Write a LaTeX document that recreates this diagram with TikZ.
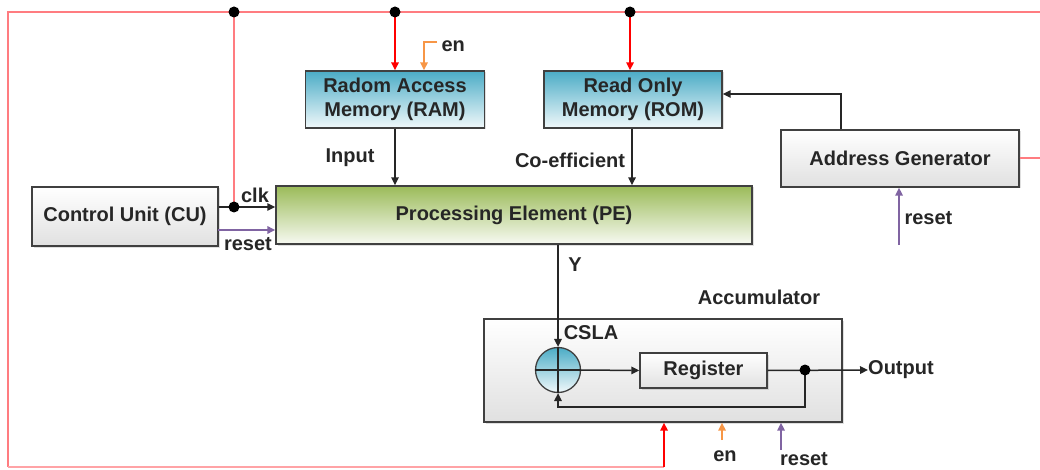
\documentclass[tikz,border=0pt]{standalone}
\usepackage{fontspec}
\setmainfont{Liberation Sans}
\usetikzlibrary{arrows.meta,positioning,calc,shadows}

\definecolor{memblue}{HTML}{4BACC6}
\definecolor{pegreen}{HTML}{9BBB59}
\definecolor{busred}{HTML}{FF7C80}
\definecolor{sigred}{HTML}{FF0000}
\definecolor{enorange}{HTML}{F79646}
\definecolor{rstpurple}{HTML}{8064A2}

\begin{document}
\begin{tikzpicture}[
      x=1pt, y=-1pt,
      font=\fontsize{20}{24}\selectfont\bfseries,
      every node/.style={text=black!85},
      >={Triangle[length=8pt,width=7.5pt]},
      block/.style={draw=black!75, line width=1.4pt, align=center, inner sep=2pt,
        drop shadow={opacity=0.25, shadow xshift=1.5pt, shadow yshift=-1.5pt}},
      graybox/.style={block, top color=white, bottom color=black!12},
      membox/.style={block, top color=memblue, bottom color=memblue!8,
        minimum width=179pt, minimum height=57pt},
      pebox/.style={block, top color=pegreen, bottom color=pegreen!8},
      adder/.style={circle, draw=black!75, line width=1.3pt, minimum size=45pt,
        top color=memblue, bottom color=memblue!8, inner sep=0pt},
      wire/.style={black!85, line width=1.5pt},
      bus/.style={busred, line width=2pt},
      redsig/.style={sigred, line width=1.6pt},
      ensig/.style={enorange, line width=1.6pt},
      rstsig/.style={rstpurple, line width=1.6pt},
      dot/.style={circle, fill=black, inner sep=0pt, minimum size=11pt}
    ]
    \useasboundingbox (0,0) rectangle (1040,470);

    % blocks
    \node[membox] (ram) at (395,99.5) {Radom Access\\Memory (RAM)};
    \node[membox, minimum width=178pt] (rom) at (633,99.5) {Read Only\\Memory (ROM)};
    \node[graybox, minimum width=238pt, minimum height=57pt] (ag) at (900,158.5) {Address Generator};
    \node[graybox, minimum width=186pt, minimum height=59pt] (cu) at (125,216.5) {Control Unit (CU)};
    \node[pebox, minimum width=476pt, minimum height=58pt] (pe) at (514,215) {Processing Element (PE)};
    \node[graybox, minimum width=358pt, minimum height=103pt] (acc) at (663,370.5) {};
    \node[graybox, minimum width=127pt, minimum height=35pt] (reg) at (703.5,370.5) {Register};
    \node[adder] (add) at (558,370) {};
    \draw[wire] (add.north) -- (add.south) (add.west) -- (add.east);

    % supply bus
    \coordinate (j1) at (234,12);
    \coordinate (j2) at (395,12);
    \coordinate (j3) at (630,12);
    \coordinate (clkdot) at (234,207);
    \coordinate (busin) at (664,467);
    \draw[bus] (1040,12) -- (8,12) -- (8,467);
    \draw[bus, busred!70] (8,467) -- (busin);
    \draw[bus] (j1) -- (clkdot);
    \draw[bus] (ag.east) -- (1040,158.5);
    \draw[redsig,->] (j2) -- (ram.north);
    \draw[redsig,->] (j3) -- (j3 |- rom.north);
    \draw[redsig,->] (busin) -- (busin |- acc.south);
    \node[dot] at (j1) {};
    \node[dot] at (j2) {};
    \node[dot] at (j3) {};

    % enable to RAM
    \draw[ensig,->] (437,42) -- (424,42) -- (424,0 |- ram.north);
    \node[anchor=west] (enram) at (438,46) {en};

    % data path
    \draw[wire,->] (ram.south) -- (ram.south |- pe.north);
    \node (inlbl) at (350,158) {Input};
    \draw[wire,->] (632,0 |- rom.south) -- (632,0 |- pe.north);
    \node (coeflbl) at (570,160) {Co-efficient};
    \draw[wire,->] ([xshift=-59pt]ag.north) |- ([yshift=5.5pt]rom.east);
    \draw[rstsig,->] (899,245) -- (899,0 |- ag.south);
    \node[anchor=west] (agrst) at (901,218) {reset};

    % control unit to PE
    \draw[wire,->] (cu.east |- clkdot) -- (pe.west |- clkdot);
    \node[dot] at (clkdot) {};
    \node (clklbl) at (255,195) {clk};
    \draw[rstsig,->] (218,230) -- (pe.west |- 0,230);
    \node (culbl) at (248,244) {reset};

    % accumulator
    \draw[wire,->] (pe.south -| add) -- (add.north);
    \node (ylbl) at (575,265) {Y};
    \node (acclbl) at (759,297) {Accumulator};
    \node (csla) at (591,333) {CSLA};
    \draw[wire,->] (add.east) -- (reg.west);
    \coordinate (tap) at (805,370);
    \node[anchor=west, inner sep=0pt] (out) at (868,370) {Output};
    \draw[wire,->] (reg.east) -- (out.west);
    \draw[wire,->] (tap) -- (805,407) -| (add.south);
    \node[dot] at (tap) {};

    % accumulator control inputs
    \draw[ensig,->] (722,440) -- (722,0 |- acc.south);
    \node (acen) at (725,456) {en};
    \draw[rstsig,->] (781,450) -- (781,0 |- acc.south);
    \node (acrst) at (804,459) {reset};
  \end{tikzpicture}
\end{document}
